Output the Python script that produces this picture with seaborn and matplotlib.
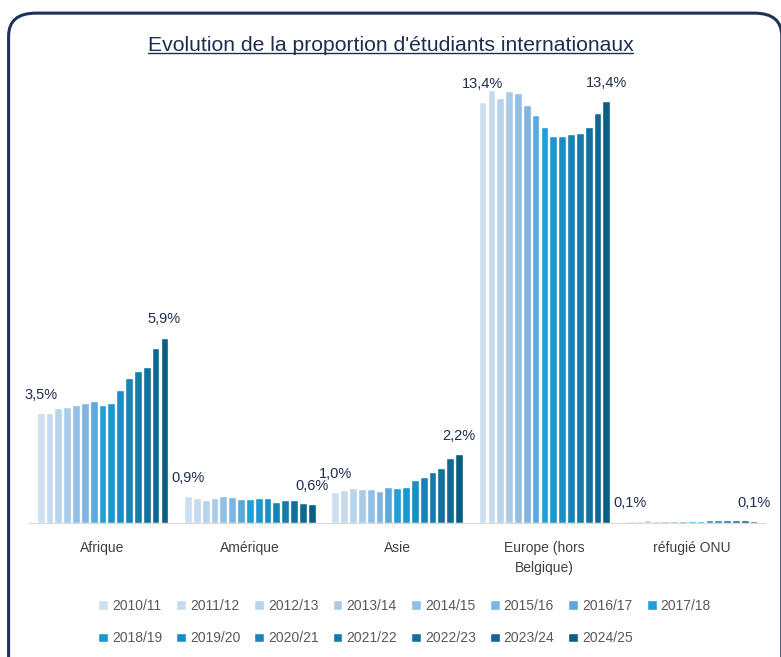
import matplotlib
matplotlib.use("Agg")
import matplotlib.pyplot as plt
from matplotlib.patches import FancyBboxPatch
from matplotlib.lines import Line2D
import seaborn as sns
import pandas as pd

# categories and years
regions = ["Afrique", "Amérique", "Asie", "Europe (hors\nBelgique)", "réfugié ONU"]
years = ["2010/11", "2011/12", "2012/13", "2013/14", "2014/15", "2015/16", "2016/17", "2017/18",
         "2018/19", "2019/20", "2020/21", "2021/22", "2022/23", "2023/24", "2024/25"]

# share of international students (%)
afrique = [3.49, 3.49, 3.67, 3.70, 3.76, 3.82, 3.89, 3.76, 3.81, 4.24, 4.62, 4.84, 4.96, 5.56, 5.90]
amerique = [0.87, 0.81, 0.75, 0.79, 0.87, 0.84, 0.77, 0.77, 0.80, 0.80, 0.68, 0.73, 0.75, 0.63, 0.61]
asie = [0.99, 1.05, 1.11, 1.08, 1.08, 1.02, 1.14, 1.11, 1.14, 1.37, 1.47, 1.64, 1.75, 2.06, 2.19]
europe = [13.37, 13.76, 13.51, 13.72, 13.65, 13.29, 12.98, 12.58, 12.30, 12.29, 12.36, 12.41, 12.58, 13.02, 13.41]
refugie = [0.06, 0.07, 0.09, 0.07, 0.06, 0.06, 0.06, 0.07, 0.08, 0.09, 0.09, 0.09, 0.09, 0.10, 0.08]

palette = ["#cddff0", "#c5daee", "#b8d3ec", "#aacbe8", "#92c0e4", "#7fb5e0", "#5aa8dc", "#1e9fd8",
           "#1a97cf", "#1a8ec4", "#1784b8", "#147bab", "#12709d", "#0f6891", "#0b5e82"]

rows = []
for reg, vals in zip(regions, [afrique, amerique, asie, europe, refugie]):
    for yr, v in zip(years, vals):
        rows.append({"region": reg, "year": yr, "value": v})
df = pd.DataFrame(rows)

sns.set_style("white")
plt.rcParams["font.family"] = ["Liberation Sans", "DejaVu Sans"]

fig = plt.figure(figsize=(7.81, 6.57), dpi=100)
ax = fig.add_axes([0.037, 0.2035, 0.943, 0.695])

sns.barplot(data=df, x="region", y="value", hue="year", order=regions, hue_order=years,
            palette=palette, saturation=1, width=0.9, gap=0.12, ax=ax, legend=True)

ax.set_ylim(0, 14.5)
ax.set_xlim(-0.5, 4.5)
ax.set_xlabel("")
ax.set_ylabel("")
ax.set_yticks([])
for s in ["top", "right", "left"]:
    ax.spines[s].set_visible(False)
ax.spines["bottom"].set_color("#d9d9d9")
ax.tick_params(axis="x", length=0, pad=13, labelsize=10, labelcolor="#404040")
for lab in ax.get_xticklabels():
    lab.set_linespacing(1.5)

# value labels on first and last year of each region
txt = "#1f2d4f"
first = ax.containers[0]
last = ax.containers[-1]
for bar in list(first) + list(last):
    h = bar.get_height()
    ax.text(bar.get_x() + bar.get_width() / 2, h + 0.35, f"{h:.1f}%".replace(".", ","),
            ha="center", va="bottom", fontsize=10.5, color=txt)

# legend under the plot, filled row by row
handles, labels = ax.get_legend_handles_labels()
ax.get_legend().remove()
order = []
for i in range(8):
    order.append(i)
    if i + 8 < len(handles):
        order.append(i + 8)
fig.legend([handles[i] for i in order], [labels[i] for i in order],
           loc="upper center", bbox_to_anchor=(0.518, 0.088), ncol=8,
           frameon=False, fontsize=10, labelcolor="#595959", handlelength=0.7, handleheight=0.7,
           handletextpad=0.3, columnspacing=1.0, labelspacing=1.3, borderaxespad=0,
           borderpad=0)

# title with underline
title = fig.text(0.5, 0.931, "Evolution de la proportion d'étudiants internationaux",
                 ha="center", va="center", fontsize=15.2, color="#1f2d4f",
                 family=["Liberation Sans Narrow", "Liberation Sans", "DejaVu Sans"])
fig.canvas.draw()
bb = title.get_window_extent().transformed(fig.transFigure.inverted())
fig.add_artist(Line2D([bb.x0, bb.x1], [bb.y0 + 0.003, bb.y0 + 0.003], color="#1f2d4f",
                      lw=1.0, transform=fig.transFigure))

# rounded frame around the chart
frame = FancyBboxPatch((0.011, -0.05), 0.99, 1.03, boxstyle="round,pad=0,rounding_size=0.035",
                       transform=fig.transFigure, fill=False, edgecolor="#1f3358", lw=2.2,
                       clip_on=False)
fig.add_artist(frame)

fig.savefig("out.png", dpi=100)
